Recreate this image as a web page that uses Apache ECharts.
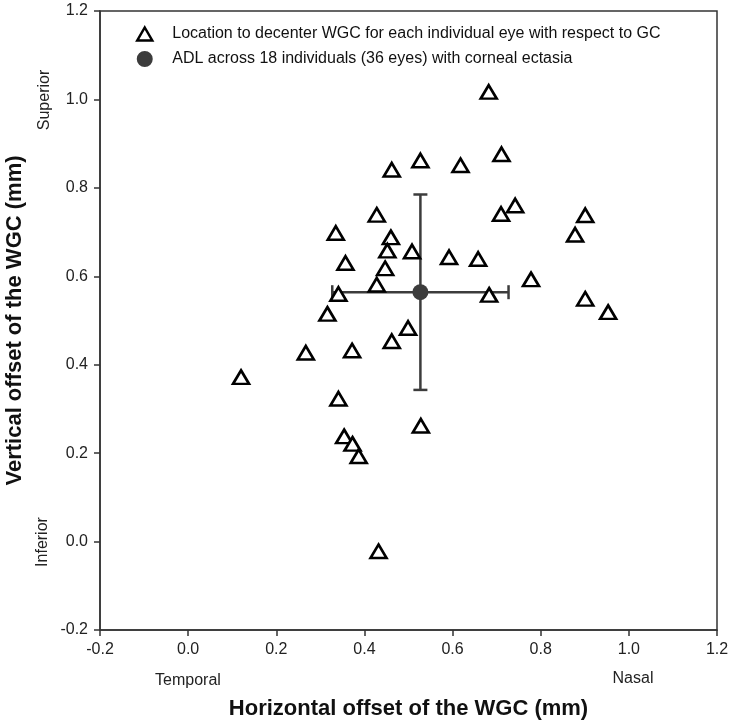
<!DOCTYPE html>
<html>
<head>
<meta charset="utf-8">
<script src="https://cdn.jsdelivr.net/npm/echarts@6/dist/echarts.min.js"></script>
<style>
html,body{margin:0;padding:0;background:#fff;}
#chart{width:732px;height:724px;}
</style>
</head>
<body>
<div id="chart"></div>
<script>
// Individual eye decentration locations (x = horizontal, y = vertical, mm)
var eyeX = [0.462, 0.527, 0.618, 0.428, 0.335, 0.460, 0.452, 0.508, 0.357, 0.447, 0.592, 0.658,
            0.682, 0.711, 0.710, 0.742, 0.901, 0.878, 0.778, 0.683, 0.901, 0.953,
            0.428, 0.341, 0.316, 0.499, 0.462, 0.267, 0.372, 0.341, 0.528, 0.120,
            0.354, 0.373, 0.387, 0.432];
var eyeY = [0.841, 0.862, 0.851, 0.739, 0.698, 0.688, 0.658, 0.656, 0.630, 0.618, 0.643, 0.639,
            1.017, 0.876, 0.741, 0.760, 0.738, 0.694, 0.593, 0.558, 0.549, 0.519,
            0.581, 0.560, 0.515, 0.483, 0.453, 0.427, 0.432, 0.323, 0.262, 0.372,
            0.238, 0.221, 0.193, -0.022];
// Mean (ADL) and standard deviations
var meanX = [0.527];
var meanY = [0.564];
var sdX = [0.200];
var sdY = [0.221];
var xTicks = [-0.2, 0.0, 0.2, 0.4, 0.6, 0.8, 1.0, 1.2];
var yTicks = [-0.2, 0.0, 0.2, 0.4, 0.6, 0.8, 1.0, 1.2];
var seriesNames = ['Location to decenter WGC for each individual eye with respect to GC',
                   'ADL across 18 individuals (36 eyes) with corneal ectasia'];

var FONT = '"Liberation Sans", Arial, sans-serif';
var DARK = '#3c3c3c';

var eyeData = eyeX.map(function (x, i) { return [x, eyeY[i]]; });
var meanData = meanX.map(function (x, i) { return [x, meanY[i]]; });
var errData = meanX.map(function (x, i) { return [x, meanY[i], sdX[i], sdY[i]]; });

var chart = echarts.init(document.getElementById('chart'), null, {renderer: 'canvas'});
chart.setOption({
  animation: false,
  backgroundColor: '#fff',
  grid: {left: 100, right: 15, top: 11, bottom: 94, outerBoundsMode: 'none', containLabel: false,
         show: true, borderColor: '#333', borderWidth: 1.5, backgroundColor: 'transparent'},
  xAxis: {
    type: 'value', min: xTicks[0], max: xTicks[xTicks.length - 1], interval: 0.2,
    splitLine: {show: false},
    axisLine: {show: true, onZero: false, lineStyle: {color: '#333', width: 1.5}},
    axisTick: {show: true, inside: false, length: 6, lineStyle: {color: '#333', width: 1.5}},
    axisLabel: {fontFamily: FONT, fontSize: 16, color: '#222', margin: 12,
      formatter: function (v) { return v.toFixed(1); }},
    name: 'Horizontal offset of the WGC (mm)', nameLocation: 'middle', nameGap: 68,
    nameTextStyle: {fontFamily: FONT, fontSize: 22, fontWeight: 'bold', color: '#111'}
  },
  yAxis: {
    type: 'value', min: yTicks[0], max: yTicks[yTicks.length - 1], interval: 0.2,
    splitLine: {show: false},
    axisLine: {show: true, onZero: false, lineStyle: {color: '#333', width: 1.5}},
    axisTick: {show: true, inside: false, length: 6, lineStyle: {color: '#333', width: 1.5}},
    axisLabel: {fontFamily: FONT, fontSize: 16, color: '#222', margin: 12,
      formatter: function (v) { return v.toFixed(1); }},
    name: 'Vertical offset of the WGC (mm)', nameLocation: 'middle', nameGap: 74,
    nameTextStyle: {fontFamily: FONT, fontSize: 22, fontWeight: 'bold', color: '#111'}
  },
  legend: {
    orient: 'vertical', left: 131, top: 21, itemWidth: 15, itemHeight: 13, itemGap: 9,
    selectedMode: false,
    textStyle: {fontFamily: FONT, fontSize: 16, color: '#111', padding: [0, 0, 0, 15], lineHeight: 16},
    data: [
      {name: seriesNames[0], icon: 'triangle', itemStyle: {color: '#fff', borderColor: '#000', borderWidth: 2.5}},
      {name: seriesNames[1], icon: 'circle', itemStyle: {color: DARK, borderColor: DARK, borderWidth: 3}}
    ]
  },
  graphic: [
    {type: 'text', x: 45, y: 100, rotation: Math.PI / 2, z: 10,
     style: {text: 'Superior', fontFamily: FONT, fontSize: 16, fill: '#222', align: 'center', verticalAlign: 'middle'}},
    {type: 'text', x: 43, y: 542, rotation: Math.PI / 2, z: 10,
     style: {text: 'Inferior', fontFamily: FONT, fontSize: 16, fill: '#222', align: 'center', verticalAlign: 'middle'}},
    {type: 'text', x: 188, y: 681, z: 10,
     style: {text: 'Temporal', fontFamily: FONT, fontSize: 16, fill: '#222', align: 'center', verticalAlign: 'middle'}},
    {type: 'text', x: 633, y: 679, z: 10,
     style: {text: 'Nasal', fontFamily: FONT, fontSize: 16, fill: '#222', align: 'center', verticalAlign: 'middle'}}
  ],
  series: [
    {
      name: 'errorbars', type: 'custom', z: 1, silent: true,
      encode: {x: 0, y: 1},
      data: errData,
      renderItem: function (params, api) {
        var mx = api.value(0), my = api.value(1), sx = api.value(2), sy = api.value(3);
        var l = api.coord([mx - sx, my]), r = api.coord([mx + sx, my]);
        var t = api.coord([mx, my + sy]), b = api.coord([mx, my - sy]);
        var cap = 7;
        var st = {stroke: DARK, lineWidth: 2.5, fill: null};
        return {type: 'group', children: [
          {type: 'line', shape: {x1: l[0], y1: l[1], x2: r[0], y2: r[1]}, style: st},
          {type: 'line', shape: {x1: t[0], y1: t[1], x2: b[0], y2: b[1]}, style: st},
          {type: 'line', shape: {x1: l[0], y1: l[1] - cap, x2: l[0], y2: l[1] + cap}, style: st},
          {type: 'line', shape: {x1: r[0], y1: r[1] - cap, x2: r[0], y2: r[1] + cap}, style: st},
          {type: 'line', shape: {x1: t[0] - cap, y1: t[1], x2: t[0] + cap, y2: t[1]}, style: st},
          {type: 'line', shape: {x1: b[0] - cap, y1: b[1], x2: b[0] + cap, y2: b[1]}, style: st}
        ]};
      }
    },
    {
      name: seriesNames[0], type: 'scatter', z: 2,
      symbol: 'triangle', symbolSize: [16, 13.5],
      itemStyle: {color: '#fff', borderColor: '#000', borderWidth: 2.6, opacity: 1},
      data: eyeData
    },
    {
      name: seriesNames[1], type: 'scatter', z: 3,
      symbol: 'circle', symbolSize: 16,
      itemStyle: {color: DARK, borderWidth: 0, opacity: 1},
      data: meanData
    }
  ]
});
</script>
</body>
</html>
